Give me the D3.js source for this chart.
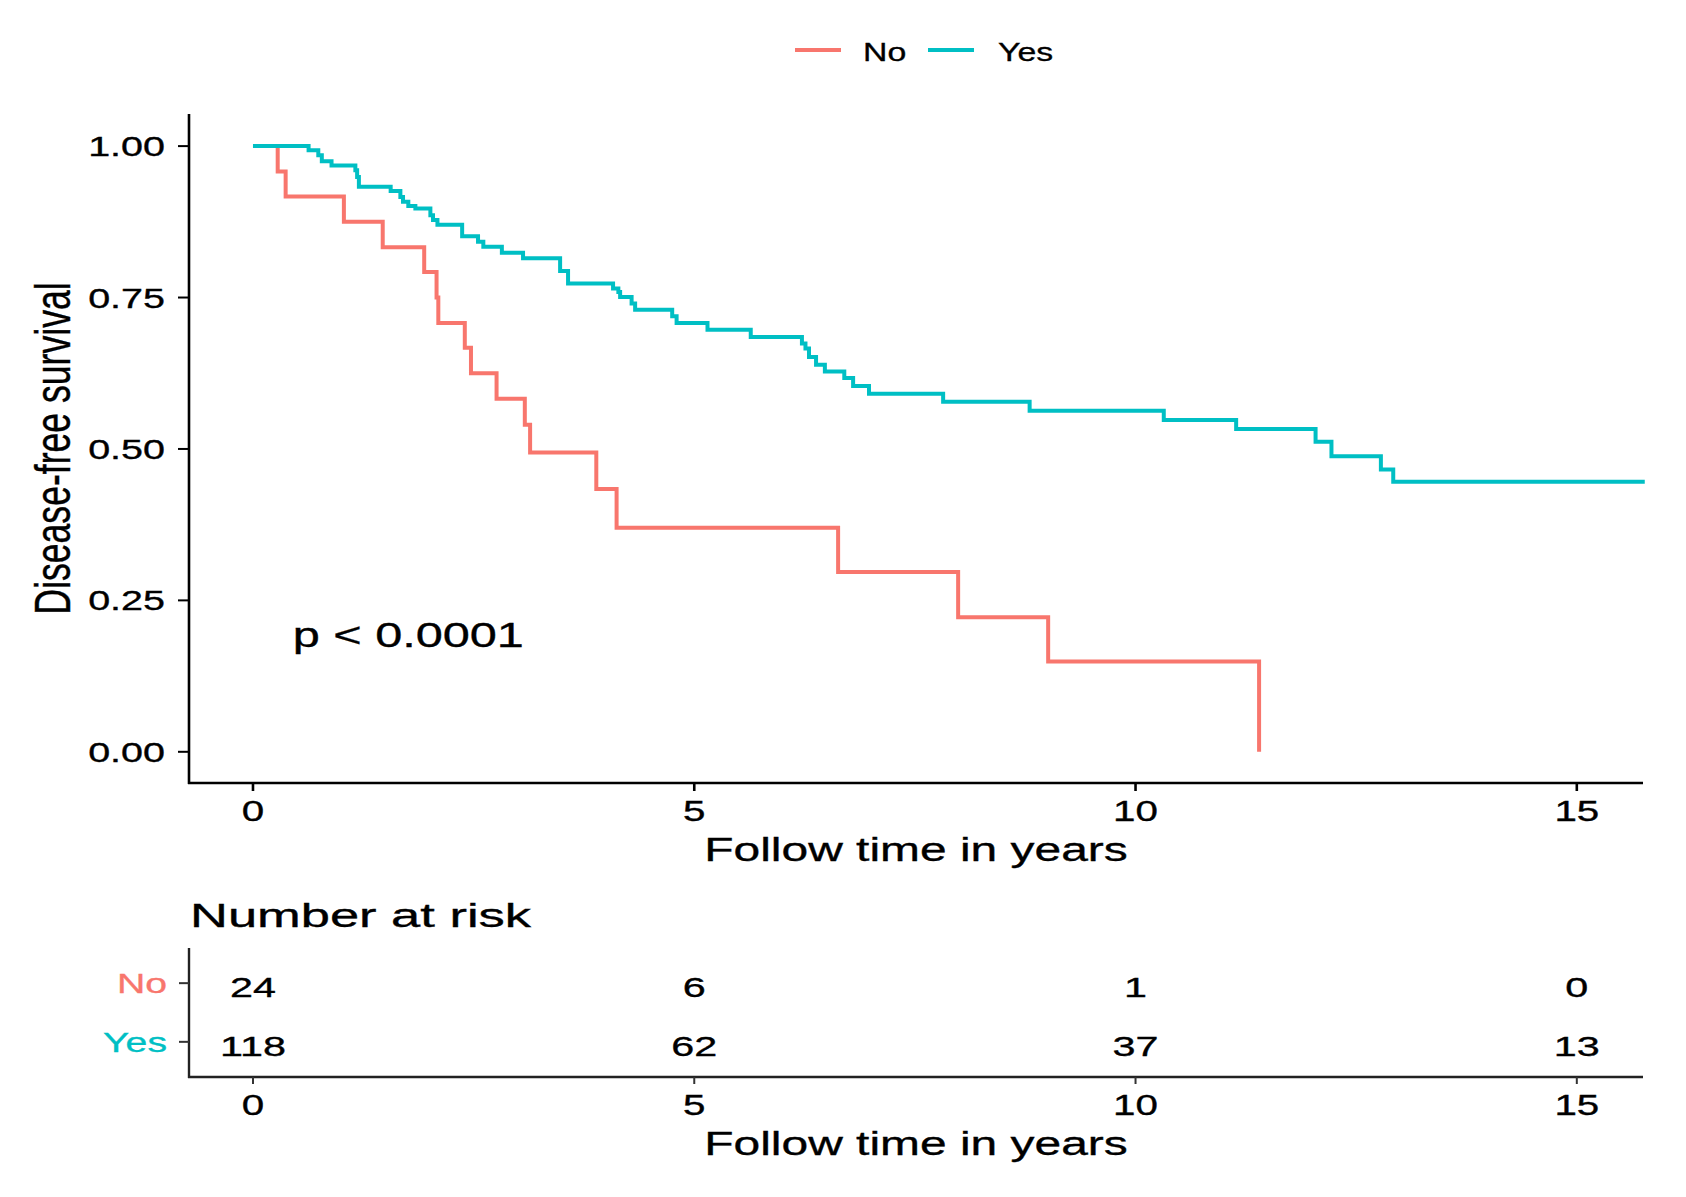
<!DOCTYPE html>
<html>
<head>
<meta charset="utf-8">
<script src="https://cdn.jsdelivr.net/npm/d3@7"></script>
<style>
  html, body { margin: 0; padding: 0; background: #fff; }
  svg { display: block; font-family: "Liberation Sans", Arial, sans-serif; }
</style>
</head>
<body>
<svg id="chart" width="1686" height="1197"></svg>
<script>
// ---------------- data ----------------
const groups = ["No", "Yes"];
const groupColors = ["#F8766D", "#00BFC4"];

// Kaplan-Meier steps: event times (years) and survival after each step
const noTimes = [0, 0.28, 0.37, 1.03, 1.47, 1.94, 2.08, 2.10, 2.40, 2.47, 2.76, 3.08, 3.14, 3.89, 4.12, 6.63, 7.99, 9.01, 11.40];
const noSurv  = [1, 0.958, 0.917, 0.875, 0.833, 0.792, 0.750, 0.708, 0.667, 0.625, 0.583, 0.540, 0.494, 0.434, 0.370, 0.297, 0.222, 0.149, 0];

const yesTimes = [0, 0.63, 0.74, 0.78, 0.89, 1.16, 1.18, 1.20, 1.56, 1.67, 1.70, 1.76, 1.84, 2.01, 2.04, 2.09, 2.37, 2.55, 2.61, 2.82, 3.06, 3.48, 3.57, 4.08, 4.14, 4.16, 4.29, 4.33, 4.75, 4.80, 5.15, 5.64, 6.22, 6.26, 6.30, 6.38, 6.48, 6.70, 6.80, 6.98, 7.82, 8.80, 10.32, 11.14, 12.04, 12.22, 12.78, 12.92, 15.77];
const yesSurv  = [1, 0.993, 0.985, 0.975, 0.968, 0.960, 0.949, 0.933, 0.926, 0.916, 0.908, 0.901, 0.897, 0.886, 0.878, 0.870, 0.851, 0.842, 0.834, 0.824, 0.815, 0.794, 0.773, 0.765, 0.759, 0.751, 0.740, 0.730, 0.719, 0.708, 0.697, 0.685, 0.674, 0.666, 0.652, 0.639, 0.628, 0.617, 0.604, 0.591, 0.578, 0.563, 0.548, 0.533, 0.512, 0.488, 0.466, 0.446, 0.446];

const xTicks = [0, 5, 10, 15];
const yTicks = [0, 0.25, 0.50, 0.75, 1.00];

const riskTimes = [0, 5, 10, 15];
const riskNo  = [24, 6, 1, 0];
const riskYes = [118, 62, 37, 13];

const pText = "p < 0.0001";
const pPos = [0.45, 0.173];
const xTitle = "Follow time in years";
const yTitle = "Disease-free survival";
const riskTitle = "Number at risk";

// ---------------- layout ----------------
const svg = d3.select("#chart");
const left = 189, right = 1643;
const mainTop = 114, mainBottom = 783;
const riskTop = 948, riskBottom = 1077;

const x = d3.scaleLinear().domain([-0.725, 15.75]).range([left, right]);
const y = d3.scaleLinear().domain([-0.0515, 1.053]).range([mainBottom, mainTop]);
const yRisk = d3.scalePoint().domain(["Yes", "No"]).range([riskBottom - 0.6 * 58.6, riskTop + 0.6 * 58.6]);

// helper: horizontally stretched text
function stext(g, tx, ty, str, size, sx, anchor, fill) {
  const c = fill || "#000";
  return g.append("text")
    .attr("transform", `translate(${tx},${ty}) scale(${sx},1)`)
    .attr("text-anchor", anchor)
    .attr("font-size", size)
    .attr("fill", c)
    .attr("stroke", c)
    .attr("stroke-width", 0.35)
    .text(str);
}

// ---------------- main plot axes ----------------
const axisG = svg.append("g");
axisG.append("line").attr("x1", left).attr("x2", left).attr("y1", mainTop).attr("y2", mainBottom + 1)
  .attr("stroke", "#000").attr("stroke-width", 2.6);
axisG.append("line").attr("x1", left - 1).attr("x2", right).attr("y1", mainBottom).attr("y2", mainBottom)
  .attr("stroke", "#000").attr("stroke-width", 2.6);

yTicks.forEach(v => {
  axisG.append("line").attr("x1", left - 11).attr("x2", left).attr("y1", y(v)).attr("y2", y(v))
    .attr("stroke", "#000").attr("stroke-width", 2);
  stext(axisG, 165, y(v) + 10, d3.format(".2f")(v), 28, 1.41, "end");
});
xTicks.forEach(v => {
  axisG.append("line").attr("x1", x(v)).attr("x2", x(v)).attr("y1", mainBottom).attr("y2", mainBottom + 8)
    .attr("stroke", "#000").attr("stroke-width", 2.6);
  stext(axisG, x(v), mainBottom + 38, String(v), 29, 1.39, "middle");
});
stext(axisG, (left + right) / 2, 861, xTitle, 34, 1.41, "middle");

// y title (rotated, stretched across)
axisG.append("text")
  .attr("transform", `translate(70,${(mainTop + mainBottom) / 2}) rotate(-90) scale(1,1.38)`)
  .attr("text-anchor", "middle")
  .attr("font-size", 35.6)
  .attr("fill", "#000")
  .attr("stroke", "#000")
  .attr("stroke-width", 0.3)
  .text(yTitle);

// ---------------- curves ----------------
const line = d3.line().x(d => x(d[0])).y(d => y(d[1])).curve(d3.curveStepAfter);
const curves = [
  d3.zip(noTimes, noSurv),
  d3.zip(yesTimes, yesSurv)
];
svg.append("g").selectAll("path").data(curves).join("path")
  .attr("d", line)
  .attr("fill", "none")
  .attr("stroke", (d, i) => groupColors[i])
  .attr("stroke-width", 4)
  .attr("stroke-linejoin", "miter");

// p-value
stext(svg, x(pPos[0]), y(pPos[1]), pText, 35, 1.39, "start");

// ---------------- legend ----------------
const legG = svg.append("g");
const legItems = [{ lx: 795, tx: 863 }, { lx: 928, tx: 998 }];
groups.forEach((gname, i) => {
  legG.append("line").attr("x1", legItems[i].lx).attr("x2", legItems[i].lx + 46)
    .attr("y1", 50).attr("y2", 50).attr("stroke", groupColors[i]).attr("stroke-width", 4);
  stext(legG, legItems[i].tx, 61, gname, 26, 1.3, "start");
});

// ---------------- risk table ----------------
const rG = svg.append("g");
stext(rG, 190, 927, riskTitle, 33, 1.59, "start");
rG.append("line").attr("x1", left).attr("x2", left).attr("y1", riskTop).attr("y2", riskBottom + 1)
  .attr("stroke", "#222").attr("stroke-width", 2.4);
rG.append("line").attr("x1", left - 1).attr("x2", right).attr("y1", riskBottom).attr("y2", riskBottom)
  .attr("stroke", "#222").attr("stroke-width", 2.4);
groups.forEach((gname, i) => {
  const yy = yRisk(gname);
  rG.append("line").attr("x1", left - 10).attr("x2", left).attr("y1", yy).attr("y2", yy)
    .attr("stroke", "#333").attr("stroke-width", 2);
  stext(rG, 167, yy + 10, gname, 28, 1.4, "end", groupColors[i]);
  const vals = i === 0 ? riskNo : riskYes;
  riskTimes.forEach((t, j) => {
    stext(rG, x(t), yy + 14, String(vals[j]), 28.5, 1.45, "middle");
  });
});
xTicks.forEach(v => {
  rG.append("line").attr("x1", x(v)).attr("x2", x(v)).attr("y1", riskBottom).attr("y2", riskBottom + 7)
    .attr("stroke", "#333").attr("stroke-width", 2);
  stext(rG, x(v), riskBottom + 38, String(v), 29, 1.39, "middle");
});
stext(rG, (left + right) / 2, riskBottom + 78, xTitle, 34, 1.41, "middle");
</script>
</body>
</html>
